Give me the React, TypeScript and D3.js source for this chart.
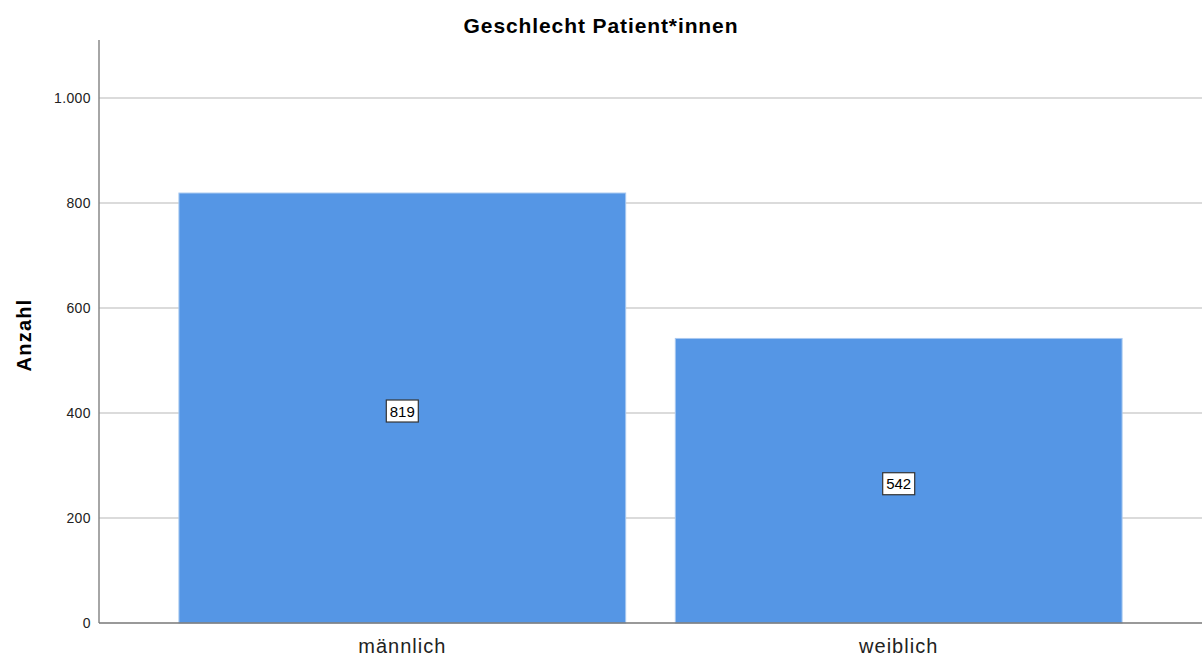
import React from "react";
import * as d3 from "d3";

const categories = ["männlich", "weiblich"];
const counts = [819, 542];
const yTicks = [0, 200, 400, 600, 800, 1000];
const yTickLabels = ["0", "200", "400", "600", "800", "1.000"];

export default function App() {
  const W = 1203, H = 657;
  const left = 99, right = 1202, top = 40, bottom = 623;
  const y = d3.scaleLinear().domain([0, 1000]).range([bottom, 98]);
  const x = d3.scaleBand<string>().domain(categories).range([left, right]).paddingInner(0.1).paddingOuter(0.161);
  const font = "Arial, 'Liberation Sans', sans-serif";
  return (
    <svg width={W} height={H} style={{ position: "absolute", left: 0, top: 0, background: "#fff" }} fontFamily={font}>
      <text x={601} y={33} textAnchor="middle" fontSize={21} fontWeight="bold" letterSpacing={0.9} fill="#000">Geschlecht Patient*innen</text>
      {yTicks.filter(t => t > 0).map(t => (
        <line key={t} x1={left} x2={right} y1={y(t)} y2={y(t)} stroke="#cfcfcf" strokeWidth={1.5} />
      ))}
      {yTicks.map((t, i) => (
        <text key={"l" + t} x={91} y={y(t) + 5} textAnchor="end" fontSize={14} letterSpacing={0.4} fill="#222">{yTickLabels[i]}</text>
      ))}
      <text transform={`translate(31,335) rotate(-90)`} textAnchor="middle" fontSize={20} fontWeight="bold" letterSpacing={1.2} fill="#000">Anzahl</text>
      {categories.map((c, i) => (
        <rect key={c} x={x(c)} y={y(counts[i])} width={x.bandwidth()} height={bottom - y(counts[i])} fill="#5596e5" stroke="#a8c8f0" strokeWidth={1} />
      ))}
      <line x1={left} x2={left} y1={top} y2={bottom} stroke="#888" strokeWidth={1.5} />
      <line x1={left} x2={right} y1={bottom} y2={bottom} stroke="#777" strokeWidth={1.5} />
      {categories.map((c, i) => {
        const cx = (x(c) as number) + x.bandwidth() / 2;
        const cy = (y(counts[i]) + bottom) / 2 + 3;
        return (
          <g key={"lab" + c}>
            <rect x={cx - 16} y={cy - 11} width={32} height={22} fill="#fff" stroke="#333" strokeWidth={1.2} />
            <text x={cx} y={cy + 5.5} textAnchor="middle" fontSize={15} fill="#000">{counts[i]}</text>
            <text x={cx} y={653} textAnchor="middle" fontSize={20} letterSpacing={1} fill="#222">{c}</text>
          </g>
        );
      })}
    </svg>
  );
}
